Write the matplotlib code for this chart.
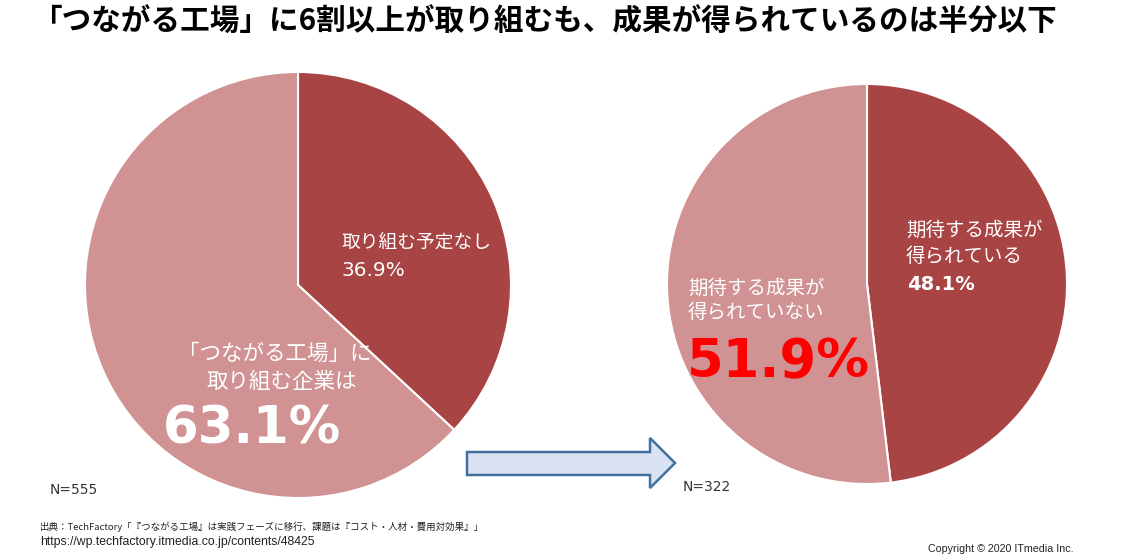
import matplotlib
matplotlib.use("Agg")
import matplotlib.pyplot as plt
from matplotlib.patches import Polygon

plt.rcParams["font.family"] = ["Noto Sans CJK JP", "DejaVu Sans"]
LATIN = ["DejaVu Sans"]

# ------------------------------------------------------------------------------
# Data
# ------------------------------------------------------------------------------
left_labels = ["取り組む予定なし", "「つながる工場」に取り組む企業は"]
left_values = [36.9, 63.1]
left_n = 555

right_labels = ["期待する成果が得られている", "期待する成果が得られていない"]
right_values = [48.1, 51.9]
right_n = 322

DARK = "#A94444"
LIGHT = "#D09292"

W, H = 1135, 560


def py(y):
    """pixel row (top-down) -> data y (bottom-up)"""
    return H - y


fig = plt.figure(figsize=(W / 100, H / 100), dpi=100)
ax = fig.add_axes([0, 0, 1, 1])

wedge_kw = dict(edgecolor="white", linewidth=1.5)
ax.pie(left_values, colors=[DARK, LIGHT], startangle=90, counterclock=False,
       center=(298, py(285)), radius=213, wedgeprops=wedge_kw, frame=True)
ax.pie(right_values, colors=[DARK, LIGHT], startangle=90, counterclock=False,
       center=(867, py(284)), radius=200, wedgeprops=wedge_kw, frame=True)

ax.set_xlim(0, W)
ax.set_ylim(0, H)
ax.set_aspect("equal")
ax.axis("off")

# title
ax.text(32, py(22), "「つながる工場」に6割以上が取り組むも、成果が得られているのは半分以下",
        fontsize=21.3, fontweight="bold", ha="left", va="center", color="black")

# left pie labels
ax.text(342, py(242), left_labels[0], fontsize=13.5, color="white", ha="left", va="center")
ax.text(341, py(270), f"{left_values[0]:.1f}%", fontsize=14.5, color="white",
        ha="left", va="center", family=LATIN)
ax.text(372, py(354), "「つながる工場」に", fontsize=15.5, color="white", ha="right", va="center")
ax.text(357, py(382), "取り組む企業は", fontsize=15.5, color="white", ha="right", va="center")
ax.text(163, py(430), f"{left_values[1]:.1f}%", fontsize=37, fontweight="bold",
        color="white", ha="left", va="center", family=LATIN)

# right pie labels
ax.text(906, py(230), "期待する成果が", fontsize=14, color="white", ha="left", va="center")
ax.text(906, py(257), "得られている", fontsize=14, color="white", ha="left", va="center")
ax.text(907, py(284), f"{right_values[0]:.1f}%", fontsize=14, fontweight="bold",
        color="white", ha="left", va="center", family=LATIN)
ax.text(688, py(288), "期待する成果が", fontsize=14, color="white", ha="left", va="center")
ax.text(688, py(313), "得られていない", fontsize=14, color="white", ha="left", va="center")
ax.text(687, py(362), f"{right_values[1]:.1f}%", fontsize=38, fontweight="bold",
        color="#FF0000", ha="left", va="center", family=LATIN)

# sample sizes
ax.text(50, py(490), f"N={left_n}", fontsize=10, color="#333333",
        ha="left", va="center", family=LATIN)
ax.text(683, py(487), f"N={right_n}", fontsize=10, color="#333333",
        ha="left", va="center", family=LATIN)

# arrow
arrow_px = [(467, 452), (650, 452), (650, 438), (675, 463),
            (650, 488), (650, 475), (467, 475)]
ax.add_patch(Polygon([(x, py(y)) for x, y in arrow_px], closed=True,
                     facecolor="#DAE3F3", edgecolor="#41719C", linewidth=1.8))

# footer
ax.text(40, py(527), "出典：TechFactory「『つながる工場』は実践フェーズに移行、課題は『コスト・人材・費用対効果』」",
        fontsize=6.8, color="#222222", ha="left", va="center")
ax.text(40, py(542), "https://wp.techfactory.itmedia.co.jp/contents/48425",
        fontsize=8.8, color="#222222", ha="left", va="center",
        family=["Liberation Sans"])
ax.text(1074, py(549), "Copyright © 2020 ITmedia Inc.", fontsize=7.7,
        color="#222222", ha="right", va="center", family=["Liberation Sans"])

fig.savefig("out.png", dpi=100)
